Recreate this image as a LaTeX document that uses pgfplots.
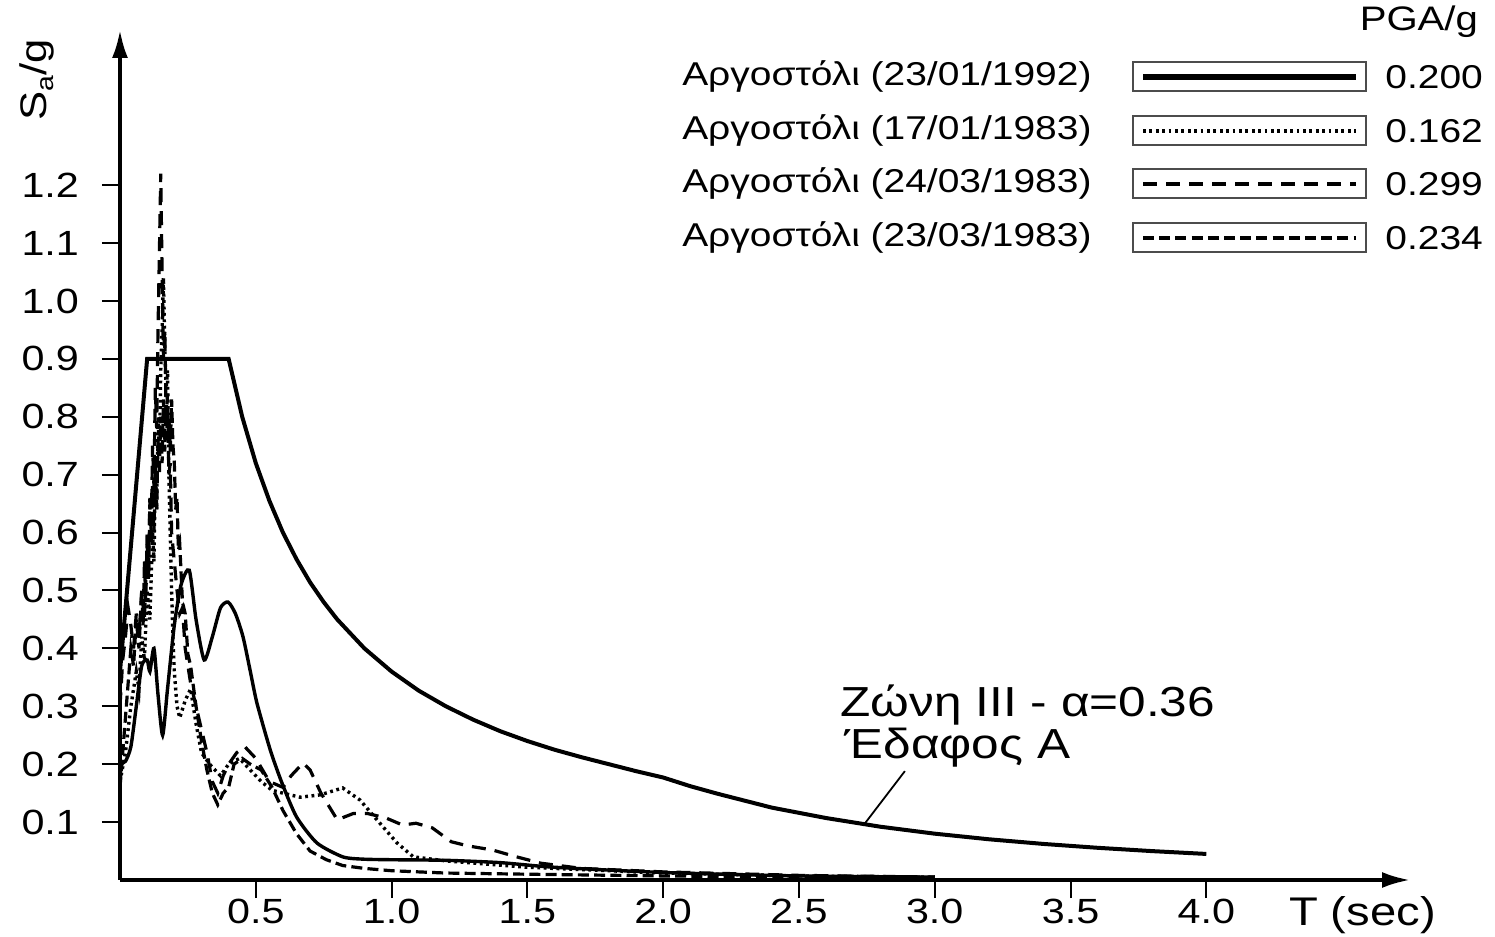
\documentclass[border=0pt]{standalone}
\usepackage{fontspec}
\setmainfont{Liberation Sans}[FakeStretch=1.18]
\usepackage{pgfplots}
\pgfplotsset{compat=1.18}
\usetikzlibrary{arrows.meta}
\tikzset{
  dotB/.style={line width=1.7pt, dash pattern=on 1.4pt off 1.8pt},
  dashC/.style={line width=1.6pt, dash pattern=on 7pt off 4.5pt},
  dashD/.style={line width=1.6pt, dash pattern=on 5.5pt off 2.6pt},
}
\begin{document}
\begin{tikzpicture}
\path[use as bounding box] (-60pt,-28.5pt) rectangle (687.5pt,440pt);
\begin{axis}[
  at={(0pt,0pt)}, anchor=south west,
  scale only axis, width=645pt, height=425pt,
  xmin=0, xmax=4.75, ymin=0, ymax=1.468,
  axis lines=left,
  axis line style={line width=1.8pt, -{Latex[length=14pt,width=8pt]}},
  xtick={0.5,1,1.5,2,2.5,3,3.5,4},
  ytick={0.1,0.2,0.3,0.4,0.5,0.6,0.7,0.8,0.9,1.0,1.1,1.2},
  tick align=outside, major tick length=9pt,
  tick style={line width=1pt, black},
  /pgf/number format/assume math mode=true,
  /pgf/number format/.cd, fixed, fixed zerofill, precision=1, /pgfplots/.cd,
  tick label style={font=\fontsize{17.5}{20}\selectfont},
  xticklabel style={yshift=3pt},
  yticklabel style={xshift=-8pt},
  clip=false,
]
% design spectrum
\addplot[black, line width=2pt] coordinates {
(0,0.36) (0.1,0.9) (0.4,0.9) (0.45,0.8) (0.5,0.72) (0.55,0.655) (0.6,0.6) (0.65,0.554) (0.7,0.514) (0.75,0.48) (0.8,0.45) (0.9,0.4) (1.0,0.36) (1.1,0.327) (1.2,0.3) (1.3,0.277) (1.4,0.257) (1.5,0.24) (1.6,0.225) (1.7,0.212) (1.8,0.2) (1.9,0.188) (2.0,0.177) (2.1,0.162) (2.2,0.149) (2.4,0.125) (2.6,0.107) (2.8,0.092) (3.0,0.08) (3.2,0.0703) (3.4,0.0623) (3.6,0.0556) (3.8,0.0499) (4.0,0.045)
};
% 23/01/1992 solid
\addplot[black, line width=1.7pt, smooth, tension=0.4] coordinates {
(0,0.20) (0.02,0.205) (0.04,0.23) (0.06,0.30) (0.08,0.37) (0.10,0.38) (0.11,0.36) (0.125,0.40) (0.14,0.32) (0.157,0.25) (0.175,0.33) (0.2,0.44) (0.225,0.51) (0.255,0.535) (0.28,0.45) (0.31,0.38) (0.34,0.42) (0.37,0.47) (0.398,0.48) (0.425,0.46) (0.453,0.42) (0.48,0.36) (0.504,0.306) (0.553,0.225) (0.596,0.168) (0.65,0.109) (0.725,0.064) (0.82,0.04) (0.895,0.036) (1.0,0.035) (1.2,0.034) (1.4,0.03) (1.6,0.022) (2.0,0.013) (2.5,0.007) (3.0,0.005)
};
% 17/01/1983 dotted
\addplot[black, dotB] coordinates {
(0,0.17) (0.02,0.22) (0.04,0.30) (0.06,0.36) (0.07,0.33) (0.08,0.42) (0.09,0.38) (0.10,0.50) (0.11,0.45) (0.12,0.60) (0.125,0.55) (0.13,0.70) (0.135,0.64) (0.14,0.80) (0.145,0.74) (0.15,0.88) (0.155,0.95) (0.16,1.04) (0.165,0.92) (0.17,0.85) (0.175,0.88) (0.18,0.70) (0.185,0.60) (0.19,0.50) (0.195,0.42) (0.2,0.36) (0.21,0.30) (0.22,0.28) (0.24,0.31) (0.26,0.33) (0.28,0.27) (0.3,0.22) (0.33,0.2) (0.37,0.18) (0.4,0.2) (0.44,0.21) (0.48,0.19) (0.52,0.17) (0.56,0.155) (0.6,0.15) (0.663,0.143) (0.737,0.147) (0.82,0.159) (0.884,0.138) (0.946,0.104) (1.02,0.064) (1.08,0.04) (1.2,0.033) (1.5,0.022) (2.0,0.012) (2.5,0.007) (3.0,0.005)
};
% 24/03/1983 dashed
\addplot[black, dashC] coordinates {
(0,0.30) (0.01,0.38) (0.02,0.42) (0.03,0.47) (0.04,0.44) (0.05,0.40) (0.06,0.46) (0.07,0.42) (0.08,0.50) (0.09,0.45) (0.10,0.58) (0.105,0.52) (0.11,0.66) (0.115,0.60) (0.12,0.75) (0.125,0.68) (0.13,0.85) (0.135,0.78) (0.14,0.95) (0.145,1.08) (0.15,1.22) (0.155,1.05) (0.16,0.90) (0.165,0.95) (0.17,0.80) (0.175,0.84) (0.18,0.70) (0.185,0.72) (0.19,0.60) (0.2,0.55) (0.21,0.50) (0.22,0.46) (0.23,0.47) (0.24,0.40) (0.26,0.34) (0.28,0.30) (0.30,0.26) (0.32,0.22) (0.34,0.17) (0.36,0.15) (0.38,0.18) (0.40,0.20) (0.43,0.22) (0.46,0.23) (0.50,0.21) (0.55,0.17) (0.60,0.16) (0.63,0.18) (0.674,0.202) (0.70,0.19) (0.74,0.15) (0.8,0.104) (0.86,0.115) (0.91,0.115) (0.98,0.107) (1.04,0.095) (1.09,0.098) (1.15,0.09) (1.22,0.066) (1.28,0.059) (1.37,0.052) (1.46,0.04) (1.55,0.029) (1.7,0.02) (2.0,0.014) (2.5,0.008) (3.0,0.005)
};
% 23/03/1983 densely dashed
\addplot[black, dashD] coordinates {
(0,0.16) (0.01,0.22) (0.02,0.28) (0.03,0.34) (0.04,0.40) (0.05,0.37) (0.06,0.45) (0.07,0.40) (0.08,0.50) (0.085,0.44) (0.09,0.55) (0.095,0.48) (0.10,0.60) (0.105,0.52) (0.11,0.65) (0.115,0.58) (0.12,0.68) (0.125,0.60) (0.13,0.72) (0.135,0.64) (0.14,0.76) (0.145,0.70) (0.15,0.80) (0.155,0.72) (0.16,0.83) (0.165,0.74) (0.17,0.82) (0.175,0.76) (0.18,0.80) (0.185,0.74) (0.19,0.83) (0.195,0.75) (0.2,0.72) (0.205,0.64) (0.21,0.66) (0.215,0.57) (0.22,0.58) (0.23,0.48) (0.24,0.46) (0.25,0.39) (0.26,0.37) (0.28,0.30) (0.30,0.24) (0.32,0.19) (0.34,0.15) (0.36,0.13) (0.38,0.15) (0.40,0.16) (0.42,0.2) (0.45,0.21) (0.48,0.2) (0.52,0.19) (0.56,0.16) (0.6,0.12) (0.65,0.08) (0.7,0.05) (0.76,0.035) (0.82,0.025) (0.9,0.02) (1.0,0.016) (1.2,0.012) (1.5,0.01) (2.0,0.007) (2.5,0.005) (3.0,0.004)
};
% annotation
\draw[line width=0.9pt] (axis cs:2.74,0.096) -- (axis cs:2.89,0.188);
\node[anchor=north west, inner sep=0pt, align=left, font=\fontsize{21}{19.5}\selectfont] at (axis cs:2.652,0.337) {Ζώνη III - α=0.36\\\hspace*{2pt}Έδαφος Α};
\end{axis}
% axis titles
\node[rotate=90, font=\fontsize{18.5}{20}\selectfont] at (-41.5pt,400pt) {S\raisebox{-0.35ex}{\fontsize{12}{12}\selectfont a}/g};
\node[anchor=west, font=\fontsize{20}{22}\selectfont] at (581pt,-17.5pt) {T (sec)};
% legend
\node[anchor=east, font=\fontsize{17}{20}\selectfont] at (682.5pt,429pt) {PGA/g};
\foreach \yy/\lab/\val/\sty in {
  401.5/{Αργοστόλι (23/01/1992)}/0.200/{line width=2.6pt},
  374.5/{Αργοστόλι (17/01/1983)}/0.162/dotB,
  348/{Αργοστόλι (24/03/1983)}/0.299/dashC,
  321/{Αργοστόλι (23/03/1983)}/0.234/dashD} {
  \draw[line width=1pt, black!70] (506.5pt,\yy pt-7.25pt) rectangle (623pt,\yy pt+7.25pt);
  \draw[style/.expanded=\sty] (511.5pt,\yy pt) -- (618pt,\yy pt);
  \node[anchor=east, inner sep=0pt, font=\fontsize{16.5}{20}\selectfont] at (486pt,\yy pt) {\lab};
  \node[anchor=west, inner sep=0pt, font=\fontsize{16.5}{20}\selectfont] at (632.5pt,\yy pt) {\val};
}
\end{tikzpicture}
\end{document}
